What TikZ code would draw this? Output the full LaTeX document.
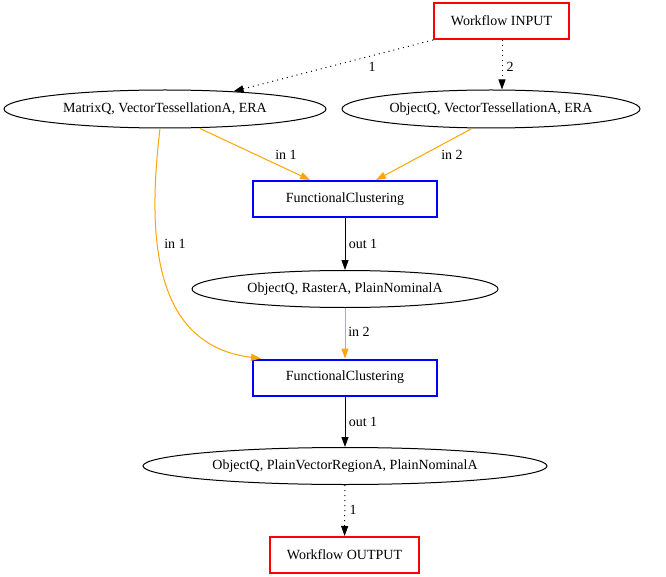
\documentclass[tikz,border=0pt]{standalone}
\usepackage{fontspec}
\setmainfont{Liberation Serif}
\usetikzlibrary{shapes.geometric,arrows.meta}
\definecolor{gvorange}{HTML}{FFA500}
\tikzset{
  every node/.style={font=\fontsize{14pt}{16pt}\selectfont},
  iobox/.style={draw=red, line width=2pt, rectangle, minimum height=36pt, inner sep=0pt},
  fnbox/.style={draw=blue, line width=2pt, rectangle, minimum width=184pt, minimum height=36pt, inner sep=0pt},
  typ/.style={draw=black, line width=1pt, ellipse, inner sep=0pt},
  tip/.style={-{Triangle[length=10pt,width=7pt]}},
  dotline/.style={tip, line width=1pt, dash pattern=on 1pt off 4pt},
  orline/.style={tip, draw=gvorange, line width=1pt},
  blline/.style={tip, draw=black, line width=1pt},
  lbl/.style={inner sep=0pt}
}
\begin{document}
\begin{tikzpicture}[x=1pt,y=-1pt]
\fill[white] (0,0) rectangle (666,577);
\useasboundingbox (0,0) rectangle (666,577);

\node[iobox, minimum width=135pt] (in) at (501.5,21) {Workflow INPUT};
\node[typ, minimum width=322pt, minimum height=38pt] (m) at (165,109) {MatrixQ, VectorTessellationA, ERA};
\node[typ, minimum width=298pt, minimum height=38pt] (o) at (491,109) {ObjectQ, VectorTessellationA, ERA};
\node[fnbox] (f1) at (345,199) {FunctionalClustering};
\node[typ, minimum width=306pt, minimum height=37pt] (r) at (345,289) {ObjectQ, RasterA, PlainNominalA};
\node[fnbox] (f2) at (345,377.5) {FunctionalClustering};
\node[typ, minimum width=404pt, minimum height=37pt] (p) at (345,466) {ObjectQ, PlainVectorRegionA, PlainNominalA};
\node[iobox, minimum width=149pt] (out) at (344.5,555) {Workflow OUTPUT};

\draw[dotline] (in.south west) -- (m);
\draw[dotline] ([xshift=0.5pt]in.south) -- ([xshift=11pt]o.north);
\draw[orline] ([xshift=35pt]m.south) -- ([xshift=-35pt]f1.north);
\draw[orline] ([xshift=-19pt]o.south) -- ([xshift=31pt]f1.north);
\draw[blline] (f1) -- (r);
\draw[orline] (r) -- (f2);
\draw[orline] ([xshift=-5pt]m.south) .. controls (148,230) and (150,345) .. ([xshift=9pt]f2.north west);
\draw[blline] (f2) -- (p);
\draw[dotline] (p) -- (out);

\node[lbl] (l1) at (372,67) {1};
\node[lbl] (l2) at (510,67) {2};
\node[lbl] (l3) at (286,155) {in 1};
\node[lbl] (l4) at (452,155) {in 2};
\node[lbl] (l5) at (363,244) {out 1};
\node[lbl] (l6) at (175,244) {in 1};
\node[lbl] (l7) at (359,332) {in 2};
\node[lbl] (l8) at (363,422) {out 1};
\node[lbl] (l9) at (353,510) {1};
\end{tikzpicture}
\end{document}
